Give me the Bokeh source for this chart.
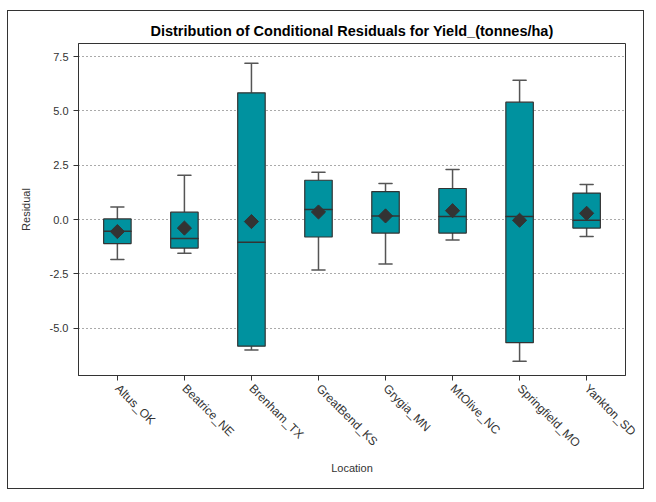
import math
from bokeh.plotting import figure
from bokeh.models import FactorRange, Range1d, FixedTicker, ColumnDataSource
from bokeh.embed import file_html
from bokeh.resources import INLINE

locations = ["Altus_OK", "Beatrice_NE", "Brenham_TX", "GreatBend_KS",
             "Grygia_MN", "MtOlive_NC", "Springfield_MO", "Yankton_SD"]
lower_whisker = [-1.83, -1.55, -6.00, -2.32, -2.04, -0.94, -6.52, -0.78]
q1 = [-1.10, -1.31, -5.82, -0.80, -0.62, -0.62, -5.66, -0.39]
median = [-0.54, -0.87, -1.04, 0.46, 0.17, 0.14, 0.14, -0.03]
q3 = [0.03, 0.34, 5.83, 1.81, 1.29, 1.43, 5.40, 1.22]
upper_whisker = [0.58, 2.04, 7.19, 2.18, 1.66, 2.30, 6.41, 1.61]
mean = [-0.55, -0.39, -0.09, 0.35, 0.17, 0.41, -0.03, 0.29]
y_ticks = [-5.0, -2.5, 0.0, 2.5, 5.0, 7.5]

src = ColumnDataSource(dict(loc=locations, lw=lower_whisker, q1=q1, med=median,
                            q3=q3, uw=upper_whisker, mean=mean))

FONT = "Liberation Sans"
DARK = "#333333"

p = figure(width=637, height=479, output_backend="svg", toolbar_location=None,
           x_range=FactorRange(factors=locations, range_padding=0.08,
                               range_padding_units="absolute"),
           y_range=Range1d(-7.17, 8.10),
           title="Distribution of Conditional Residuals for Yield_(tonnes/ha)",
           min_border_left=70, min_border_right=20, min_border_top=32,
           min_border_bottom=115)
p.styles = {"border": "1px solid #333333", "margin-left": "7px", "margin-top": "10px"}

p.title.align = "center"
p.title.text_font = FONT
p.title.text_font_size = "14.5px"
p.title.text_font_style = "bold"
p.title.text_color = "#000000"

p.outline_line_color = DARK
p.outline_line_width = 1
p.outline_line_alpha = 1

# whiskers
p.segment(x0="loc", y0="q3", x1="loc", y1="uw", source=src, line_color="#555555", line_width=1.5)
p.segment(x0="loc", y0="lw", x1="loc", y1="q1", source=src, line_color="#555555", line_width=1.5)
p.rect(x="loc", y="uw", width=0.2, height=0.0001, source=src, line_color="#555555", line_width=1.5, fill_alpha=0)
p.rect(x="loc", y="lw", width=0.2, height=0.0001, source=src, line_color="#555555", line_width=1.5, fill_alpha=0)
# boxes
p.vbar(x="loc", top="q3", bottom="q1", width=0.41, source=src,
       fill_color="#00929F", line_color=DARK, line_width=1.2)
# medians
p.rect(x="loc", y="med", width=0.41, height=0.0001, source=src, line_color=DARK, line_width=1.5, fill_alpha=0)
# means
p.scatter(x="loc", y="mean", source=src, marker="square", angle=math.pi / 4, size=10,
          fill_color=DARK, line_color=DARK)

# axes
p.yaxis.ticker = FixedTicker(ticks=y_ticks)
p.yaxis.major_label_overrides = {t: f"{t:.1f}" for t in y_ticks}
p.yaxis.axis_label = "Residual"
p.xaxis.axis_label = "Location"
for ax in (p.xaxis, p.yaxis):
    ax.axis_line_color = DARK
    ax.major_tick_line_color = DARK
    ax.major_tick_out = 5
    ax.major_tick_in = 0
    ax.minor_tick_line_color = None
    ax.major_label_text_font = FONT
    ax.major_label_text_font_size = "11px"
    ax.major_label_text_color = "#333333"
    ax.axis_label_text_font = FONT
    ax.axis_label_text_font_size = "11px"
    ax.axis_label_text_font_style = "normal"
    ax.axis_label_text_color = "#333333"
p.yaxis.major_label_standoff = 5
p.yaxis.axis_label_standoff = 15
p.xaxis.major_label_orientation = -math.pi / 4
p.xaxis.major_label_text_font_size = "12px"
p.xaxis.major_label_standoff = 6
p.xaxis.axis_label_standoff = 4

p.xgrid.grid_line_color = None
p.ygrid.grid_line_color = "#555555"
p.ygrid.grid_line_dash = "1 3"
p.ygrid.grid_line_width = 1

open("out.html", "w").write(file_html(p, INLINE))
